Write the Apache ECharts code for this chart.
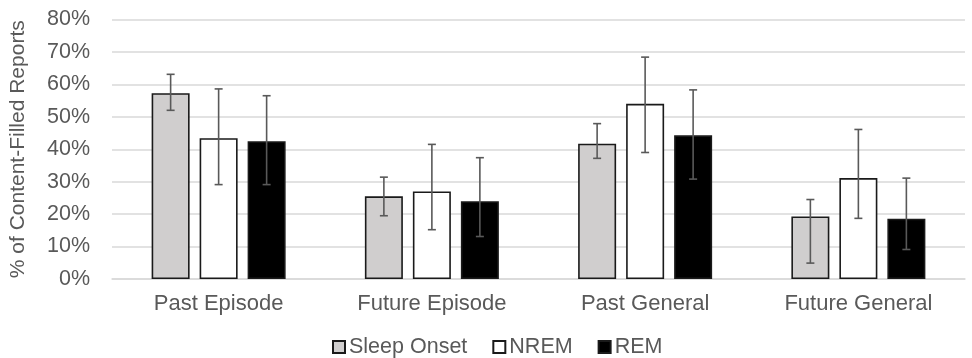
<!DOCTYPE html>
<html>
<head>
<meta charset="utf-8">
<title>Content-Filled Reports by Sleep Stage</title>
<script src="https://cdn.jsdelivr.net/npm/echarts@6/dist/echarts.min.js"></script>
<style>
  html, body { margin: 0; padding: 0; background: #ffffff; }
  #chart { width: 972px; height: 358px; }
</style>
</head>
<body>
<div id="chart"></div>
<script>
// Report categories along the x axis
const categories = ['Past Episode', 'Future Episode', 'Past General', 'Future General'];

// Mean percentage of content-filled reports per sleep stage
const sleepOnset = [57.3, 25.5, 41.7, 19.3];
const nrem = [43.4, 27.0, 54.0, 31.1];
const rem = [42.5, 24.0, 44.3, 18.6];

// Error bar bounds (low / high) per sleep stage
const sleepOnsetLow = [52.0, 19.5, 37.2, 4.9];
const sleepOnsetHigh = [63.1, 31.4, 47.9, 24.5];
const nremLow = [29.1, 15.2, 39.0, 18.7];
const nremHigh = [58.6, 41.5, 68.4, 46.1];
const remLow = [29.1, 13.1, 30.8, 9.1];
const remHigh = [56.5, 37.4, 58.3, 31.1];

// Y axis ticks
const yTicks = [0, 10, 20, 30, 40, 50, 60, 70, 80];

const FONT = '"Liberation Sans", Arial, sans-serif';
const TEXT = '#595959';
const GRID = '#d9d9d9';
const BAR_W = 38;
const BAR_GAP = 10;

const stages = [
  { name: 'Sleep Onset', values: sleepOnset, low: sleepOnsetLow, high: sleepOnsetHigh, color: '#d0cece' },
  { name: 'NREM', values: nrem, low: nremLow, high: nremHigh, color: '#ffffff' },
  { name: 'REM', values: rem, low: remLow, high: remHigh, color: '#000000' }
];

function errorBarRenderer(offsetIndex) {
  return function (params, api) {
    const cat = api.value(0);
    const lo = api.coord([cat, api.value(1)]);
    const hi = api.coord([cat, api.value(2)]);
    const x = lo[0] + (offsetIndex - 1) * (BAR_W + BAR_GAP);
    const cap = 4;
    const style = { stroke: '#595959', lineWidth: 1.6 };
    return {
      type: 'group',
      children: [
        { type: 'line', shape: { x1: x, y1: lo[1], x2: x, y2: hi[1] }, style },
        { type: 'line', shape: { x1: x - cap, y1: lo[1], x2: x + cap, y2: lo[1] }, style },
        { type: 'line', shape: { x1: x - cap, y1: hi[1], x2: x + cap, y2: hi[1] }, style }
      ]
    };
  };
}

const series = [];
stages.forEach(function (s) {
  series.push({
    name: s.name,
    type: 'bar',
    data: s.values,
    barWidth: BAR_W,
    barGap: (BAR_GAP / BAR_W * 100) + '%',
    itemStyle: { color: s.color, borderColor: '#1a1a1a', borderWidth: 1.6 }
  });
});
stages.forEach(function (s, i) {
  series.push({
    name: s.name + ' range',
    type: 'custom',
    renderItem: errorBarRenderer(i),
    data: categories.map(function (c, k) { return [k, s.low[k], s.high[k]]; }),
    encode: { x: 0, y: [1, 2] },
    z: 10,
    silent: true
  });
});

const chart = echarts.init(document.getElementById('chart'), null, { renderer: 'canvas' });
chart.setOption({
  animation: false,
  backgroundColor: '#ffffff',
  textStyle: { fontFamily: FONT },
  grid: { left: 110, right: 7, top: 19.5, bottom: 79, containLabel: false },
  legend: {
    data: stages.map(function (s) { return s.name; }),
    left: 332,
    top: 336,
    padding: 0,
    icon: 'rect',
    itemWidth: 12,
    itemHeight: 12,
    itemGap: 25,
    textStyle: { color: TEXT, fontSize: 21.5, fontFamily: FONT, padding: [0, 0, 0, -1] }
  },
  xAxis: {
    type: 'category',
    data: categories,
    axisTick: { show: false },
    axisLine: { lineStyle: { color: GRID, width: 1.5 } },
    axisLabel: { color: TEXT, fontSize: 22, fontFamily: FONT, margin: 14 }
  },
  yAxis: {
    type: 'value',
    min: yTicks[0],
    max: yTicks[yTicks.length - 1],
    interval: yTicks[1] - yTicks[0],
    name: '% of Content-Filled Reports',
    nameLocation: 'middle',
    nameGap: 83,
    nameTextStyle: { color: TEXT, fontSize: 21, fontFamily: FONT },
    axisLine: { show: false },
    axisTick: { show: false },
    axisLabel: { color: TEXT, fontSize: 21.5, fontFamily: FONT, margin: 22, formatter: '{value}%' },
    splitLine: { lineStyle: { color: GRID, width: 1.5 } }
  },
  series: series
});
</script>
</body>
</html>
